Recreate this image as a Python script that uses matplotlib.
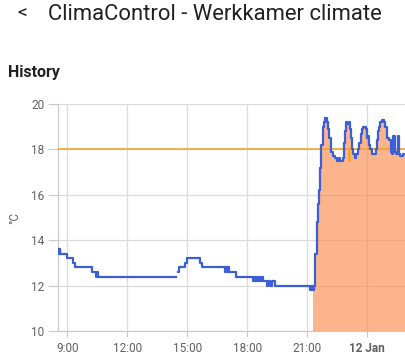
import numpy as np
import matplotlib.pyplot as plt

plt.rcParams['font.family'] = ['Roboto', 'DejaVu Sans']

# hours since midnight 11 Jan (values > 24 are on 12 Jan)
t_hours = [8.53, 8.56, 8.58, 8.61, 8.63, 8.66, 8.97, 9.30, 9.40,
           10.23, 10.45, 10.48, 10.52, 14.43, 14.53, 14.60, 14.90, 14.97,
           15.65, 15.75, 16.89, 16.94, 16.99, 17.04, 17.09, 17.43,
           18.28, 18.33, 18.38, 18.43, 18.48, 18.53, 18.58, 18.63, 18.68, 18.73, 18.80,
           18.97, 19.05, 19.15, 19.25, 19.40,
           21.13, 21.17, 21.21, 21.25, 21.29, 21.34,
           21.40, 21.46, 21.52, 21.58, 21.64, 21.70, 21.76, 21.84, 21.90,
           21.97, 22.02, 22.09, 22.16, 22.19, 22.27, 22.39, 22.47, 22.58, 22.63,
           22.80, 22.84, 22.88, 22.93, 23.00, 23.06, 23.14, 23.19, 23.25, 23.30,
           23.36, 23.44, 23.52, 23.60, 23.68, 23.74, 23.80, 23.92, 23.99, 24.05,
           24.10, 24.14, 24.24, 24.43, 24.48, 24.52, 24.58, 24.64, 24.72, 24.85,
           24.90, 24.99, 25.10, 25.16, 25.19, 25.24, 25.30, 25.37, 25.44, 25.52,
           25.57, 25.65, 25.77, 25.95]
temp = [13.6, 13.4, 13.6, 13.4, 13.6, 13.4, 13.2, 13.0, 12.8,
        12.6, 12.4, 12.6, 12.4, np.nan, 12.6, 12.8, 13.0, 13.2,
        13.0, 12.8, 12.6, 12.8, 12.6, 12.8, 12.6, 12.4,
        12.2, 12.4, 12.2, 12.4, 12.2, 12.4, 12.2, 12.4, 12.2, 12.4, 12.2,
        12.0, 12.2, 12.0, 12.2, 12.0,
        11.8, 12.0, 11.8, 12.0, 11.8, 12.0,
        13.4, 14.8, 15.6, 16.2, 17.2, 18.2, 19.0, 19.2, 19.4,
        19.2, 18.9, 18.5, 18.1, 17.9, 17.7, 17.6, 17.5, 17.6, 17.5,
        17.6, 18.3, 18.8, 19.2, 19.1, 19.2, 18.9, 18.5, 18.0, 17.8,
        17.6, 17.8, 18.0, 18.3, 18.7, 18.9, 19.0, 18.9, 18.5, 18.6,
        18.2, 18.0, 17.8, 18.0, 18.4, 18.8, 19.0, 19.2, 19.3, 19.2,
        19.0, 18.5, 18.4, 18.1, 17.9, 17.8, 18.6, 17.9, 17.8, 18.6,
        17.8, 17.7, 17.8, 17.8]

t_target = [8.53, 14.43, 14.53, 23.08, 23.12, 25.95]
target = [18.0, np.nan, 18.0, 17.5, 18.0, 18.0]

heat_start = 21.27
x_ticks = [9, 12, 15, 18, 21, 24]
x_labels = ['9:00', '12:00', '15:00', '18:00', '21:00', '12 Jan']
y_ticks = [10, 12, 14, 16, 18, 20]

t = np.array(t_hours)
y = np.array(temp)

fig = plt.figure(figsize=(4.06, 3.63), dpi=100)
ax = fig.add_axes([58 / 406, 1 - 331 / 363, 348 / 406, 227 / 363])

# heating periods shaded up to the current temperature
mask = t >= heat_start
ft = np.concatenate([[heat_start], t[mask]])
fy = np.concatenate([[y[~mask][-1]], y[mask]])
ax.fill_between(ft, 10, fy, step='post', color='#fa8c4f', alpha=0.65,
                linewidth=0, zorder=2)

ax.plot(t_target, target, drawstyle='steps-post', color='#f4a52c',
        linewidth=1.2, zorder=3)
ax.plot(t, y, drawstyle='steps-post', color='#3d5fd6', linewidth=1.6, zorder=4)

ax.set_xlim(8.535, 25.935)
ax.set_ylim(10, 20)
ax.set_xticks(x_ticks)
ax.set_xticklabels(x_labels)
ax.get_xticklabels()[-1].set_fontweight('bold')
ax.set_yticks(y_ticks)
ax.grid(True, color='#dcdcdc', linewidth=0.9, zorder=1)
ax.set_axisbelow(True)
for s in ['top', 'right']:
    ax.spines[s].set_visible(False)
for s in ['left', 'bottom']:
    ax.spines[s].set_color('#c8c8c8')
ax.tick_params(axis='y', length=7, color='#c8c8c8', labelsize=8.5,
               labelcolor='#616161', pad=3)
ax.tick_params(axis='x', length=4, color='#c8c8c8', labelsize=8.5,
               labelcolor='#616161', pad=4)
ax.set_ylabel('°C', fontsize=8.5, color='#616161', labelpad=7)

fig.text(17 / 406, 1 - 14 / 363, '<', fontsize=14, color='#212121',
         va='center', ha='left')
fig.text(48 / 406, 1 - 14 / 363, 'ClimaControl - Werkkamer climate',
         fontsize=15.8, color='#212121', va='center', ha='left')
fig.text(8 / 406, 1 - 72 / 363, 'History', fontsize=11.5, fontweight='bold',
         color='#212121', va='center', ha='left')

fig.savefig('out.png', dpi=100)
